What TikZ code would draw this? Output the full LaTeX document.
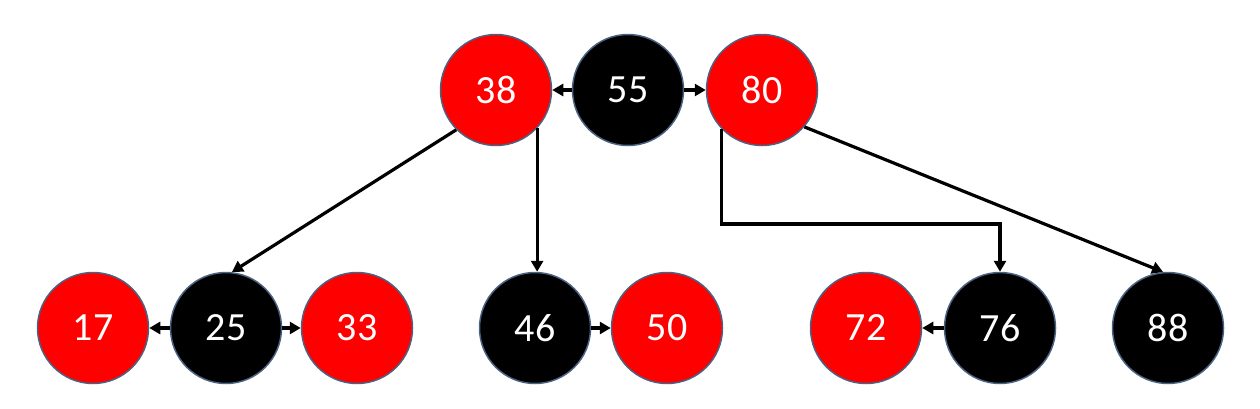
\documentclass[tikz,border=0pt]{standalone}
\usepackage{fontspec}
\setmainfont{Carlito}
\usetikzlibrary{arrows.meta}
\definecolor{rbred}{HTML}{FF0000}
\definecolor{rbline}{HTML}{4A6382}
\tikzset{
  rbnode/.style={circle, minimum size=111pt, inner sep=0pt, draw=rbline, line width=1.5pt,
    text=white, font=\fontsize{40}{42}\selectfont},
  rednode/.style={rbnode, fill=rbred},
  blacknode/.style={rbnode, fill=black},
  link/.style={line width=3.2pt, -{Triangle[length=11pt,width=12pt]}}
}
\begin{document}
\begin{tikzpicture}[x=1pt,y=-1pt]
\useasboundingbox (0,0) rectangle (1260,408);
\fill[white] (0,0) rectangle (1260,408);
\node[rednode]   (n38) at (496,90) {38};
\node[blacknode] (n55) at (628,90) {55};
\node[rednode]   (n80) at (762,90) {80};
\node[rednode]   (n17) at (93,328) {17};
\node[blacknode] (n25) at (226,328) {25};
\node[rednode]   (n33) at (357,328) {33};
\node[blacknode] (n46) at (535,328) {46};
\node[rednode]   (n50) at (667,328) {50};
\node[rednode]   (n72) at (866,328) {72};
\node[blacknode] (n76) at (1000,328) {76};
\node[blacknode] (n88) at (1168,328) {88};
\coordinate (bend) at (1000,224);

\draw[link] (n55.west) -- (n38.east);
\draw[link] (n55.east) -- (n80.west);
\draw[link] (n25.west) -- (n17.east);
\draw[link] (n25.east) -- (n33.west);
\draw[link] (n46.east) -- (n50.west);
\draw[link] (n76.west) -- (n72.east);

\draw[link] (n38.225) -- (n25.84);
\draw[link] (n38.-43) -- (n38.-43 |- n46.north);
\draw[link] (n80.-136) |- (bend) -- (n76.north);
\draw[link] (n80.-41) -- (n88.95);
\end{tikzpicture}
\end{document}
